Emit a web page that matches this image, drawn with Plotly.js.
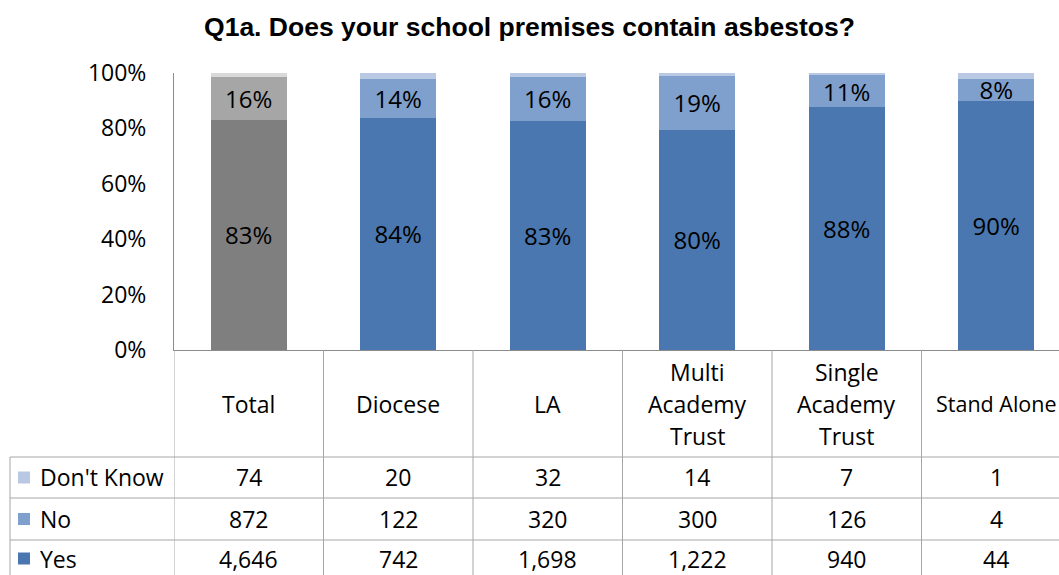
<!DOCTYPE html>
<html><head><meta charset="utf-8">
<script src="https://cdn.plot.ly/plotly-3.0.1.min.js"></script>
<style>html,body{margin:0;padding:0;overflow:hidden;background:#fff}</style>
</head><body><div id="chart" style="width:1059px;height:575px"></div>
<script>
// ---- data ----
const categories = ['Total', 'Diocese', 'LA', 'Multi Academy Trust', 'Single Academy Trust', 'Stand Alone'];
const categoryLabels = ['Total', 'Diocese', 'LA', 'Multi<br>Academy<br>Trust', 'Single<br>Academy<br>Trust', 'Stand Alone'];
const yesCounts = [4646, 742, 1698, 1222, 940, 44];
const noCounts = [872, 122, 320, 300, 126, 4];
const dontKnowCounts = [74, 20, 32, 14, 7, 1];
const yesPctLabels = [83, 84, 83, 80, 88, 90];
const noPctLabels = [16, 14, 16, 19, 11, 8];
const rowNames = ["Don't Know", 'No', 'Yes'];
const yTickVals = [0, 20, 40, 60, 80, 100];

// ---- styles ----
const W = 1059, H = 575;
const L = 174, T = 73, B = 350;          // plot area pixels
const catW = 149.5;                       // pixel width of one category
const FONT = 'Open Sans, sans-serif';
const gridCol = '#A6A6A6';
const colYes = categories.map((c, i) => i === 0 ? '#7F7F7F' : '#4A77AF');
const colNo = categories.map((c, i) => i === 0 ? '#A6A6A6' : '#7F9FCC');
const colDK = categories.map((c, i) => i === 0 ? '#D9D9D9' : '#B9C8E3');
const keyCols = ['#B9C8E3', '#7F9FCC', '#4A77AF'];
const tableFont = {family: FONT, size: 23, color: '#000'};
const edgeHeaderFont = {family: FONT, size: 21.5, color: '#000'};

const pxX = p => (p - L) / (W - L);
const pxY = p => (B - p) / (B - T);

const x = categories.map((c, i) => i);
const barW = 0.51;

const traces = [
  {type: 'bar', name: 'Yes', x: x, y: yesCounts, width: barW,
   marker: {color: colYes, line: {width: 0}},
   text: yesPctLabels.map(v => v + '%'), textposition: 'inside', insidetextanchor: 'middle',
   textangle: 0, constraintext: 'none',
   textfont: {family: FONT, size: 24, color: '#000'}, hoverinfo: 'skip'},
  {type: 'bar', name: 'No', x: x, y: noCounts, width: barW,
   marker: {color: colNo, line: {width: 0}},
   text: noPctLabels.map(v => v + '%'), textposition: 'inside', insidetextanchor: 'middle',
   textangle: 0, constraintext: 'none',
   textfont: {family: FONT, size: 24, color: '#000'}, hoverinfo: 'skip'},
  {type: 'bar', name: "Don't Know", x: x, y: dontKnowCounts, width: barW,
   marker: {color: colDK, line: {width: 0}}, textposition: 'none', hoverinfo: 'skip'}
];

const shapes = [];
const annotations = [];
const tableBottom = H + 10;

// category boundary vertical lines
for (let i = 0; i <= categories.length; i++) {
  shapes.push({type: 'line', xref: 'x', yref: 'paper', x0: i - 0.5, x1: i - 0.5,
    y0: pxY(B), y1: pxY(tableBottom), line: {color: gridCol, width: 1}});
}
// row horizontal lines
const rowTops = [457, 498, 540];
const rowCenters = [477.5, 519, 558.5];
rowTops.forEach(r => shapes.push({type: 'line', xref: 'paper', yref: 'paper',
  x0: pxX(10), x1: 1, y0: pxY(r), y1: pxY(r), line: {color: gridCol, width: 1}}));
// left border of row header column
shapes.push({type: 'line', xref: 'paper', yref: 'paper', x0: pxX(10), x1: pxX(10),
  y0: pxY(457), y1: pxY(tableBottom), line: {color: gridCol, width: 1}});

// category headers (one annotation per line, 32px line spacing)
const headerCenter = 403.5, lineGap = 32;
categories.forEach((c, i) => {
  const lines = categoryLabels[i].split('<br>');
  const isEdge = i === categories.length - 1;
  lines.forEach((ln, k) => annotations.push({xref: 'x', yref: 'paper', x: i,
    y: pxY(headerCenter + (k - (lines.length - 1) / 2) * lineGap),
    text: ln, showarrow: false, xanchor: 'center', yanchor: 'middle',
    font: isEdge ? edgeHeaderFont : tableFont, borderpad: 0}));
});

const rowData = [dontKnowCounts, noCounts, yesCounts];
rowNames.forEach((name, r) => {
  shapes.push({type: 'rect', xref: 'paper', yref: 'paper', x0: pxX(18), x1: pxX(30),
    y0: pxY(rowCenters[r] - 6), y1: pxY(rowCenters[r] + 6), fillcolor: keyCols[r], line: {width: 0}});
  annotations.push({xref: 'paper', yref: 'paper', x: pxX(39), y: pxY(rowCenters[r]), text: name,
    showarrow: false, xanchor: 'left', yanchor: 'middle', font: tableFont, borderpad: 0});
  rowData[r].forEach((v, i) => annotations.push({xref: 'x', yref: 'paper', x: i, y: pxY(rowCenters[r]),
    text: v.toLocaleString('en-US'), showarrow: false, xanchor: 'center', yanchor: 'middle',
    font: tableFont, borderpad: 0}));
});

const layout = {
  width: W, height: H,
  margin: {l: L, r: 0, t: T, b: H - B, pad: 0},
  paper_bgcolor: '#fff', plot_bgcolor: '#fff',
  barmode: 'stack', barnorm: 'percent', showlegend: false,
  title: {text: 'Q1a. Does your school premises contain asbestos?', x: 0.5, xanchor: 'center',
    y: 1 - 27 / H, yanchor: 'middle', yref: 'container',
    font: {family: 'Liberation Sans, Arial, sans-serif', size: 26.5, color: '#000', weight: 'bold'}},
  xaxis: {range: [-0.5, -0.5 + (W - L) / catW], showticklabels: false, ticks: '',
    showgrid: false, zeroline: false, showline: true, linecolor: '#8C8C8C', linewidth: 1, fixedrange: true},
  yaxis: {range: [0, 100], tickvals: yTickVals, ticktext: yTickVals.map(v => v + '%'),
    showgrid: false, zeroline: false, showline: true, linecolor: '#8C8C8C', linewidth: 1, ticks: '',
    ticklabelstandoff: 22, tickfont: {family: FONT, size: 23, color: '#000'}, fixedrange: true},
  shapes: shapes, annotations: annotations
};

Plotly.newPlot('chart', traces, layout, {displayModeBar: false, staticPlot: true});
</script>
</body></html>
